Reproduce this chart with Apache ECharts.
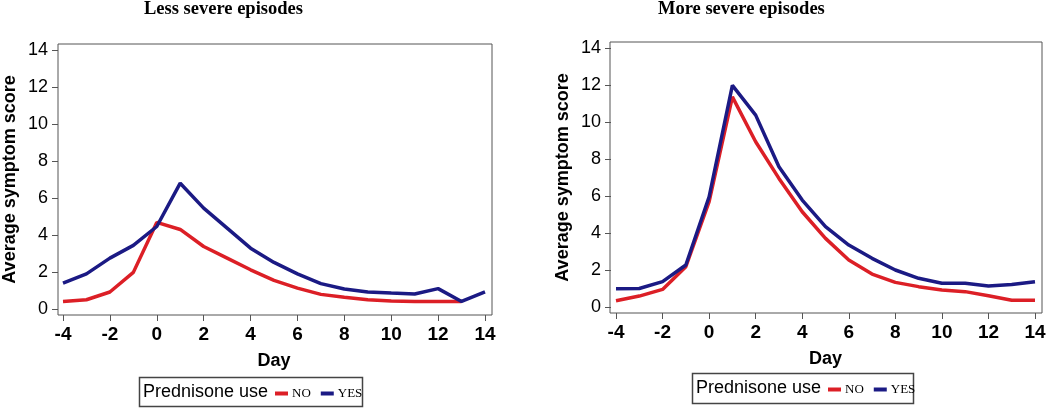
<!DOCTYPE html>
<html>
<head>
<meta charset="utf-8">
<script src="https://cdn.jsdelivr.net/npm/echarts@6/dist/echarts.min.js"></script>
<style>
html,body{margin:0;padding:0;background:#fff;}
#chart{width:1050px;height:408px;}
</style>
</head>
<body>
<div id="chart"></div>
<script>
// ---- data ----
var days = [-4,-3,-2,-1,0,1,2,3,4,5,6,7,8,9,10,11,12,13,14];
var xTicks = [-4,-2,0,2,4,6,8,10,12,14];
var yTicks = [0,2,4,6,8,10,12,14];
var panelTitles = ["Less severe episodes", "More severe episodes"];
var legendTitle = "Prednisone use";
var seriesNames = ["NO", "YES"];
// Less severe episodes
var lessNo  = [0.41,0.50,0.92,1.98,4.68,4.30,3.38,2.75,2.12,1.55,1.13,0.79,0.63,0.50,0.43,0.40,0.40,0.40];
var lessYes = [1.40,1.90,2.75,3.44,4.46,6.80,5.45,4.37,3.29,2.52,1.90,1.37,1.08,0.92,0.86,0.81,1.10,0.41,0.92];
// More severe episodes
var moreNo  = [0.34,0.59,0.95,2.18,5.69,11.36,8.93,6.95,5.15,3.71,2.54,1.78,1.33,1.10,0.92,0.83,0.61,0.36,0.36];
var moreYes = [0.99,1.00,1.37,2.27,5.96,11.98,10.37,7.58,5.78,4.34,3.35,2.63,2.00,1.55,1.28,1.28,1.13,1.22,1.37];

function pairs(vals){ return vals.map(function(v,i){ return [days[i], v]; }); }

var RED = '#dc1f26', BLUE = '#1b1a84', FRAME = '#555';
var SANS = '"Liberation Sans", Arial, sans-serif';
var SERIF = '"Liberation Serif", "Times New Roman", serif';

function hiddenAxis(gi){ return {gridIndex: gi, show: false, type: 'value', min: 0, max: 1}; }
function dataX(gi){
  return {gridIndex: gi, type: 'value', min: xTicks[0], max: xTicks[xTicks.length-1], interval: 2,
    offset: 6, axisLine: {show: false, onZero: false}, splitLine: {show: false},
    axisTick: {show: true, length: 6, lineStyle: {color: FRAME, width: 1}},
    axisLabel: {fontFamily: SANS, fontSize: 19, fontWeight: 'bold', color: '#000', margin: 10},
    name: 'Day', nameLocation: 'middle', nameGap: 37,
    nameTextStyle: {fontFamily: SANS, fontSize: 18, fontWeight: 'bold', color: '#000'}};
}
function dataY(gi){
  return {gridIndex: gi, type: 'value', min: yTicks[0], max: yTicks[yTicks.length-1], interval: 2,
    offset: 5, axisLine: {show: false, onZero: false}, splitLine: {show: false},
    axisTick: {show: true, length: 6, lineStyle: {color: FRAME, width: 1}},
    axisLabel: {fontFamily: SANS, fontSize: 18, color: '#000', margin: 10},
    name: 'Average symptom score', nameLocation: 'middle', nameGap: 39,
    nameTextStyle: {fontFamily: SANS, fontSize: 18, fontWeight: 'bold', color: '#000'}};
}
function line(name, data, color, gi){
  return {type: 'line', name: name, xAxisIndex: gi, yAxisIndex: gi, data: pairs(data),
    showSymbol: false, symbol: 'none', lineStyle: {color: color, width: 3.5}, itemStyle: {color: color},
    animation: false};
}
function legend(left, top){
  return {data: seriesNames, left: left, top: top, icon: 'rect', itemWidth: 13, itemHeight: 4,
    itemGap: 10, padding: 0, selectedMode: false,
    textStyle: {fontFamily: SERIF, fontSize: 13, color: '#000', padding: [0,0,0,-1]}};
}

var chart = echarts.init(document.getElementById('chart'), null, {renderer: 'canvas'});
chart.setOption({
  backgroundColor: '#fff',
  animation: false,
  title: [
    {text: panelTitles[0], left: 144, top: 0, padding: 0,
     textStyle: {fontFamily: SERIF, fontSize: 18.5, fontWeight: 'bold', color: '#000'}},
    {text: panelTitles[1], left: 658, top: 0, padding: 0,
     textStyle: {fontFamily: SERIF, fontSize: 18.5, fontWeight: 'bold', color: '#000'}}
  ],
  grid: [
    {left: 58, top: 44, width: 434, height: 271, show: true, borderColor: FRAME, borderWidth: 1, backgroundColor: 'transparent'},
    {left: 63, top: 50, width: 422, height: 259},
    {left: 610, top: 42, width: 432, height: 271, show: true, borderColor: FRAME, borderWidth: 1, backgroundColor: 'transparent'},
    {left: 616, top: 48, width: 419, height: 259}
  ],
  xAxis: [hiddenAxis(0), dataX(1), hiddenAxis(2), dataX(3)],
  yAxis: [hiddenAxis(0), dataY(1), hiddenAxis(2), dataY(3)],
  legend: [legend(275, 387), legend(828, 383)],
  series: [
    line(seriesNames[0], lessNo, RED, 1),
    line(seriesNames[1], lessYes, BLUE, 1),
    line(seriesNames[0], moreNo, RED, 3),
    line(seriesNames[1], moreYes, BLUE, 3)
  ],
  graphic: [
    {type: 'rect', shape: {x: 139.5, y: 377.5, width: 223, height: 29}, style: {fill: '#fff', stroke: '#444', lineWidth: 1.5}, z: -1},
    {type: 'text', x: 143, y: 392, style: {text: legendTitle, font: '18px ' + SANS, fill: '#000', textVerticalAlign: 'middle', verticalAlign: 'middle'}},
    {type: 'rect', shape: {x: 692.5, y: 373.5, width: 221, height: 30}, style: {fill: '#fff', stroke: '#444', lineWidth: 1.5}, z: -1},
    {type: 'text', x: 696, y: 388, style: {text: legendTitle, font: '18px ' + SANS, fill: '#000', textVerticalAlign: 'middle', verticalAlign: 'middle'}}
  ]
});
</script>
</body>
</html>
